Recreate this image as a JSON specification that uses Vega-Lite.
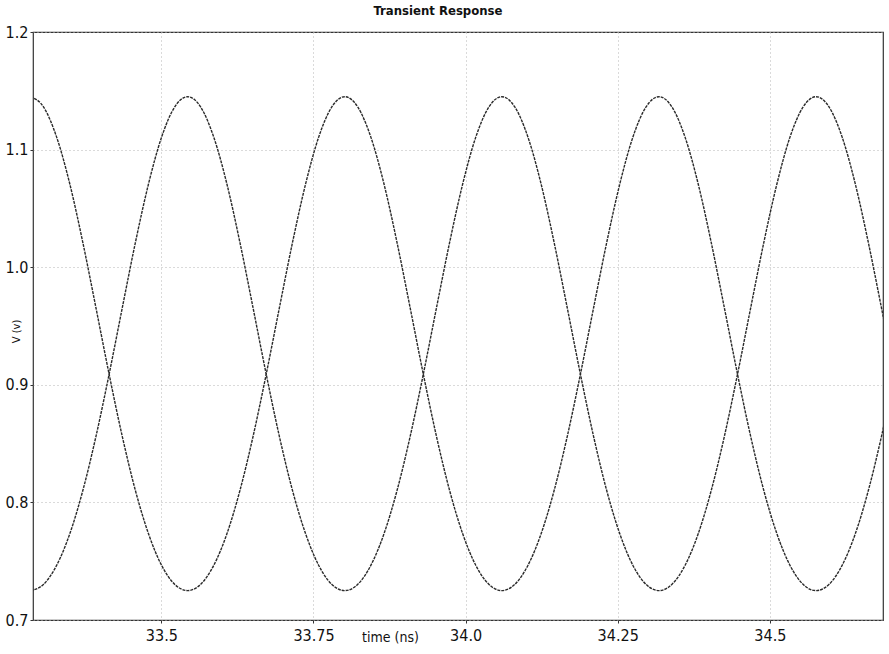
{
  "$schema": "https://vega.github.io/schema/vega-lite/v6.json",
  "autosize": "none",
  "width": 850,
  "height": 588,
  "padding": {"left": 33, "top": 32, "right": 6, "bottom": 34},
  "background": "white",
  "title": {
    "text": "Transient Response",
    "font": "DejaVu Sans Condensed, Roboto, sans-serif",
    "fontSize": 13,
    "fontWeight": "bold",
    "color": "#111",
    "anchor": "middle",
    "frame": "group",
    "offset": 6,
    "dx": -20
  },
  "data": {
    "values": [
      {"t": 33.2850, "a": 1.145, "b": 0.725},
      {"t": 33.3065, "a": 1.1361, "b": 0.7304},
      {"t": 33.3280, "a": 1.1104, "b": 0.7466},
      {"t": 33.3496, "a": 1.0705, "b": 0.7735},
      {"t": 33.3711, "a": 1.0205, "b": 0.8105},
      {"t": 33.3926, "a": 0.9651, "b": 0.8564},
      {"t": 33.4141, "a": 0.909, "b": 0.909},
      {"t": 33.4356, "a": 0.8564, "b": 0.9651},
      {"t": 33.4571, "a": 0.8105, "b": 1.0205},
      {"t": 33.4787, "a": 0.7735, "b": 1.0705},
      {"t": 33.5002, "a": 0.7466, "b": 1.1104},
      {"t": 33.5217, "a": 0.7304, "b": 1.1361},
      {"t": 33.5432, "a": 0.725, "b": 1.145},
      {"t": 33.5647, "a": 0.7304, "b": 1.1361},
      {"t": 33.5862, "a": 0.7466, "b": 1.1104},
      {"t": 33.6078, "a": 0.7735, "b": 1.0705},
      {"t": 33.6293, "a": 0.8105, "b": 1.0205},
      {"t": 33.6508, "a": 0.8564, "b": 0.9651},
      {"t": 33.6723, "a": 0.909, "b": 0.909},
      {"t": 33.6938, "a": 0.9651, "b": 0.8564},
      {"t": 33.7153, "a": 1.0205, "b": 0.8105},
      {"t": 33.7369, "a": 1.0705, "b": 0.7735},
      {"t": 33.7584, "a": 1.1104, "b": 0.7466},
      {"t": 33.7799, "a": 1.1361, "b": 0.7304},
      {"t": 33.8014, "a": 1.145, "b": 0.725},
      {"t": 33.8229, "a": 1.1361, "b": 0.7304},
      {"t": 33.8444, "a": 1.1104, "b": 0.7466},
      {"t": 33.8660, "a": 1.0705, "b": 0.7735},
      {"t": 33.8875, "a": 1.0205, "b": 0.8105},
      {"t": 33.9090, "a": 0.9651, "b": 0.8564},
      {"t": 33.9305, "a": 0.909, "b": 0.909},
      {"t": 33.9520, "a": 0.8564, "b": 0.9651},
      {"t": 33.9735, "a": 0.8105, "b": 1.0205},
      {"t": 33.9951, "a": 0.7735, "b": 1.0705},
      {"t": 34.0166, "a": 0.7466, "b": 1.1104},
      {"t": 34.0381, "a": 0.7304, "b": 1.1361},
      {"t": 34.0596, "a": 0.725, "b": 1.145},
      {"t": 34.0811, "a": 0.7304, "b": 1.1361},
      {"t": 34.1026, "a": 0.7466, "b": 1.1104},
      {"t": 34.1242, "a": 0.7735, "b": 1.0705},
      {"t": 34.1457, "a": 0.8105, "b": 1.0205},
      {"t": 34.1672, "a": 0.8564, "b": 0.9651},
      {"t": 34.1887, "a": 0.909, "b": 0.909},
      {"t": 34.2102, "a": 0.9651, "b": 0.8564},
      {"t": 34.2317, "a": 1.0205, "b": 0.8105},
      {"t": 34.2533, "a": 1.0705, "b": 0.7735},
      {"t": 34.2748, "a": 1.1104, "b": 0.7466},
      {"t": 34.2963, "a": 1.1361, "b": 0.7304},
      {"t": 34.3178, "a": 1.145, "b": 0.725},
      {"t": 34.3393, "a": 1.1361, "b": 0.7304},
      {"t": 34.3608, "a": 1.1104, "b": 0.7466},
      {"t": 34.3824, "a": 1.0705, "b": 0.7735},
      {"t": 34.4039, "a": 1.0205, "b": 0.8105},
      {"t": 34.4254, "a": 0.9651, "b": 0.8564},
      {"t": 34.4469, "a": 0.909, "b": 0.909},
      {"t": 34.4684, "a": 0.8564, "b": 0.9651},
      {"t": 34.4899, "a": 0.8105, "b": 1.0205},
      {"t": 34.5115, "a": 0.7735, "b": 1.0705},
      {"t": 34.5330, "a": 0.7466, "b": 1.1104},
      {"t": 34.5545, "a": 0.7304, "b": 1.1361},
      {"t": 34.5760, "a": 0.725, "b": 1.145},
      {"t": 34.5975, "a": 0.7304, "b": 1.1361},
      {"t": 34.6190, "a": 0.7466, "b": 1.1104},
      {"t": 34.6406, "a": 0.7735, "b": 1.0705},
      {"t": 34.6621, "a": 0.8105, "b": 1.0205},
      {"t": 34.6836, "a": 0.8564, "b": 0.9651},
      {"t": 34.7051, "a": 0.909, "b": 0.909}
    ]
  },
  "transform": [{"fold": ["a", "b"], "as": ["s", "v"]}],
  "mark": {
    "type": "line",
    "interpolate": "monotone",
    "clip": true,
    "color": "#2a2a2a",
    "strokeWidth": 1.4,
    "strokeDash": [3, 1]
  },
  "encoding": {
    "x": {
      "field": "t",
      "type": "quantitative",
      "scale": {"domain": [33.289, 34.686], "nice": false, "zero": false},
      "axis": {
        "values": [33.5, 33.75, 34.0, 34.25, 34.5],
        "labelExpr": "datum.value == 34 ? '34.0' : format(datum.value, '.2~f')",
        "title": "time (ns)",
        "titleX": 357,
        "titleY": 17,
        "titleBaseline": "middle",
        "titleFontSize": 14,
        "titleFontWeight": "normal",
        "labelPadding": 4,
        "tickSize": 3
      }
    },
    "y": {
      "field": "v",
      "type": "quantitative",
      "scale": {"domain": [0.7, 1.2], "nice": false, "zero": false},
      "axis": {
        "values": [0.7, 0.8, 0.9, 1.0, 1.1, 1.2],
        "format": ".1f",
        "title": "V (v)",
        "titleX": -17,
        "titleY": 299,
        "titleAlign": "center",
        "titleBaseline": "middle",
        "titleFontSize": 11,
        "titleFontWeight": "normal",
        "labelPadding": 2,
        "tickSize": 3
      }
    },
    "detail": {"field": "s", "type": "nominal"}
  },
  "config": {
    "view": {"stroke": "#333", "strokeWidth": 1.2},
    "axis": {
      "domain": false,
      "grid": true,
      "gridColor": "#b5b5b5",
      "gridDash": [1, 3],
      "gridWidth": 1,
      "ticks": true,
      "tickColor": "#333",
      "labelFont": "DejaVu Sans Condensed, Roboto, sans-serif",
      "labelFontSize": 16,
      "labelColor": "#111",
      "titleFont": "DejaVu Sans Condensed, Roboto, sans-serif",
      "titleColor": "#111"
    }
  }
}
